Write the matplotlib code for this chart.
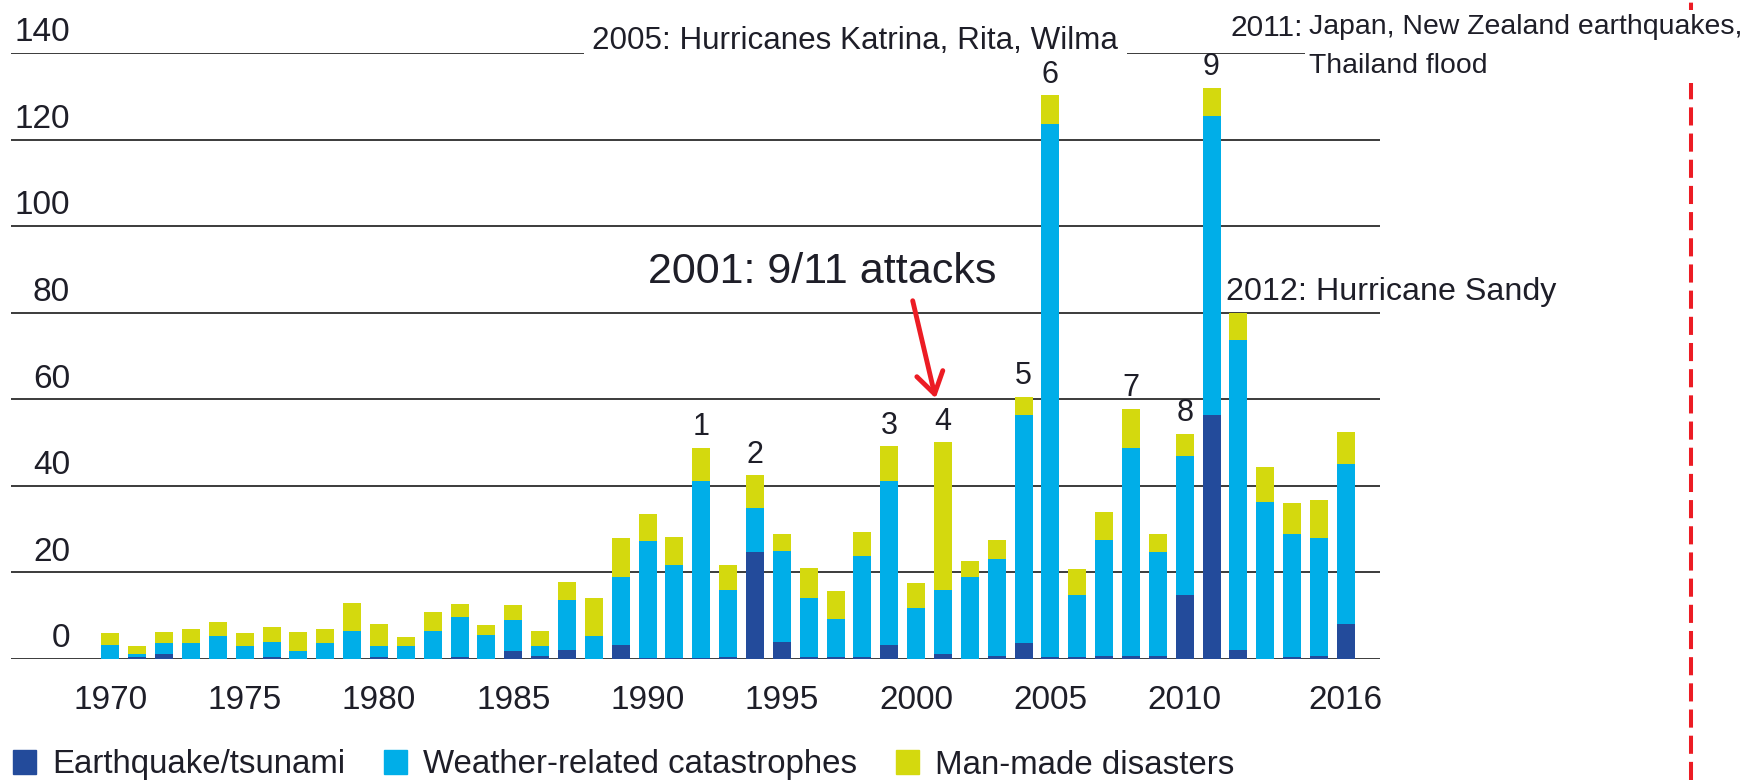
import matplotlib.pyplot as plt
import numpy as np
from matplotlib.lines import Line2D
from matplotlib.patches import Patch

plt.rcParams['font.family'] = ['Liberation Sans', 'DejaVu Sans']

# insured losses per year, by type of event
years = np.arange(1970, 2017)
quake = [0.0, 0.5, 1.1, 0.0, 0.0, 0.0, 0.4, 0.0, 0.0, 0.0,
         0.4, 0.0, 0.0, 0.4, 0.0, 1.8, 0.8, 2.1, 0.0, 3.3,
         0.3, 0.3, 0.3, 0.4, 24.7, 4.0, 0.4, 0.4, 0.4, 3.3,
         0.0, 1.1, 0.0, 0.8, 3.7, 0.4, 0.4, 0.8, 0.8, 0.8,
         14.9, 56.3, 2.1, 0.0, 0.4, 0.8, 8.2]
weather = [3.3, 0.7, 2.6, 3.7, 5.3, 3.0, 3.6, 1.8, 3.7, 6.5,
           2.6, 3.0, 6.5, 9.4, 5.6, 7.1, 2.2, 11.5, 5.3, 15.6,
           26.9, 21.4, 40.8, 15.5, 10.2, 20.9, 13.6, 8.8, 23.5, 37.8,
           11.7, 14.8, 18.9, 22.3, 52.6, 123.2, 14.5, 26.7, 48.0, 23.9,
           32.1, 69.1, 71.6, 36.2, 28.4, 27.2, 36.8]
manmade = [2.6, 1.8, 2.5, 3.2, 3.2, 2.9, 3.5, 4.4, 3.2, 6.5,
           5.2, 2.2, 4.3, 2.9, 2.3, 3.5, 3.5, 4.3, 8.7, 9.1,
           6.4, 6.6, 7.7, 5.8, 7.5, 3.9, 7.1, 6.4, 5.4, 8.0,
           5.8, 34.2, 3.7, 4.4, 4.3, 6.6, 5.8, 6.4, 9.0, 4.1,
           5.1, 6.6, 6.2, 8.2, 7.2, 8.7, 7.4]

event_years = [1992, 1994, 1999, 2001, 2004, 2005, 2008, 2010, 2011]
event_labels = ['1', '2', '3', '4', '5', '6', '7', '8', '9']

xtick_years = [1970, 1975, 1980, 1985, 1990, 1995, 2000, 2005, 2010, 2016]
ytick_values = [0, 20, 40, 60, 80, 100, 120, 140]

c_quake = '#234b9b'
c_weather = '#00aee8'
c_manmade = '#d4d90e'
red = '#ec1c24'
ink = '#1e1e28'

quake = np.array(quake)
weather = np.array(weather)
manmade = np.array(manmade)
total = quake + weather + manmade

fig = plt.figure(figsize=(17.43, 7.80), dpi=100)
ax = fig.add_axes([0.0063, 0.1551, 0.7854, 0.7769])

w = 0.67
ax.bar(years, quake, width=w, color=c_quake, zorder=2)
ax.bar(years, weather, width=w, bottom=quake, color=c_weather, zorder=2)
ax.bar(years, manmade, width=w, bottom=quake + weather, color=c_manmade, zorder=2)

# grid lines with the value written just above each one
for v in ytick_values:
    ax.axhline(v, color='#1a1a1a', lw=1.2, zorder=1)
    ax.annotate(str(v), xy=(0.0431, v), xycoords=('axes fraction', 'data'),
                xytext=(0, 8.5), textcoords='offset points',
                ha='right', va='baseline', fontsize=24, color=ink)

ax.set_xlim(1966.3, 2017.27)
ax.set_ylim(0, 140)
ax.set_xticks(xtick_years)
ax.tick_params(axis='x', length=0, pad=18.5, labelsize=24, labelcolor=ink)
ax.set_yticks([])
for s in ax.spines.values():
    s.set_visible(False)

# numbered events above the bars
for yr, lab in zip(event_years, event_labels):
    ax.annotate(lab, xy=(yr, total[yr - 1970]), xytext=(0, 4),
                textcoords='offset points', ha='center', va='bottom',
                fontsize=22, color=ink, annotation_clip=False, zorder=6)

ax.text(1987.94, 141, '2005: Hurricanes Katrina, Rita, Wilma', fontsize=22.6,
        color=ink, va='baseline', ha='left', zorder=5, clip_on=False,
        bbox=dict(facecolor='white', edgecolor='none', pad=6))
ax.text(2011.70, 143.9, '2011:', fontsize=21.5, color=ink, va='baseline',
        ha='left', zorder=5, clip_on=False,
        bbox=dict(facecolor='white', edgecolor='none', pad=8))
# baseline here is the one of the last line
ax.text(2014.64, 135.4, 'Japan, New Zealand earthquakes,\nThailand flood',
        fontsize=20.4, color=ink, va='baseline', ha='left', linespacing=1.66,
        zorder=5, clip_on=False,
        bbox=dict(facecolor='white', edgecolor='none', pad=3))
ax.text(2011.55, 82.9, '2012: Hurricane Sandy', fontsize=23.2, color=ink,
        va='baseline', ha='left', zorder=5, clip_on=False)

ax.text(1996.49, 86.8, '2001: 9/11 attacks', fontsize=31, color=ink,
        ha='center', va='baseline', zorder=5)
ax.annotate('', xy=(2000.75, 59.6), xytext=(1999.85, 83.4),
            arrowprops=dict(arrowstyle='->, head_length=0.5, head_width=0.32',
                            color=red, lw=3.5, mutation_scale=30), zorder=5)

# red dashed separator on the right
ax.add_line(Line2D([0.9702, 0.9702], [0, 1], transform=fig.transFigure,
                   color=red, lw=2.9, dashes=(4.5, 2), clip_on=False, zorder=1))

handles = [Patch(color=c_quake, label='Earthquake/tsunami'),
           Patch(color=c_weather, label='Weather-related catastrophes'),
           Patch(color=c_manmade, label='Man-made disasters')]
leg = fig.legend(handles=handles, loc='center left', bbox_to_anchor=(13 / 1743, 15 / 780),
                 ncol=3, frameon=False, fontsize=23.8, handlelength=0.7, handleheight=0.75,
                 handletextpad=0.5, columnspacing=1.15, borderpad=0, borderaxespad=0)
for t in leg.get_texts():
    t.set_color(ink)

fig.savefig('out.png', dpi=100)
